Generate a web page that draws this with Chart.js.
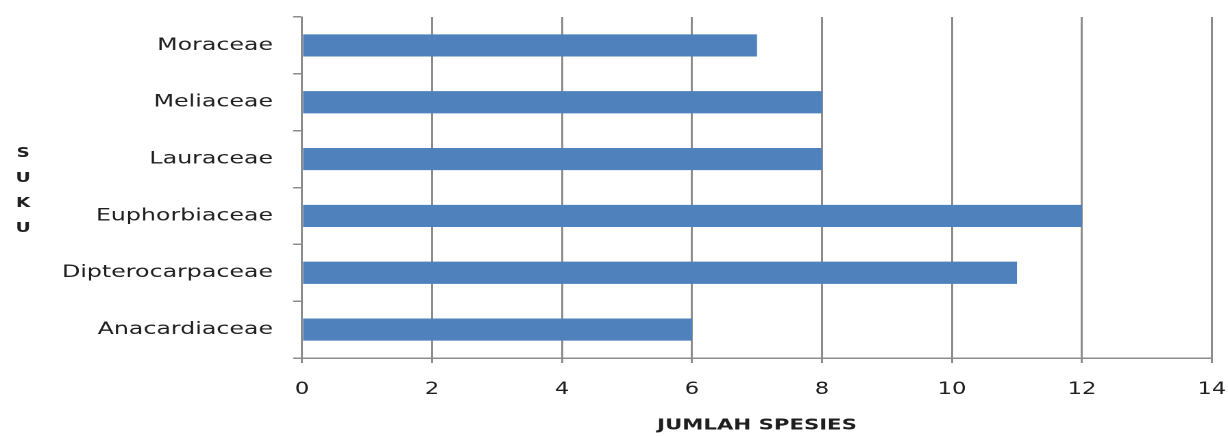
<!DOCTYPE html>
<html>
<head>
<meta charset="utf-8">
<script src="https://cdn.jsdelivr.net/npm/chart.js@4"></script>
<style>
  html, body { margin: 0; background: #fff; overflow: hidden; }
  /* the original picture is stretched sideways, so draw narrower and stretch the box */
  #wrap { position: relative; width: 896px; height: 436px; transform: scaleX(1.3705); transform-origin: 0 0; }
</style>
</head>
<body>
<div id="wrap"><canvas id="suku"></canvas></div>
<script>
/* Data */
const families = ['Moraceae', 'Meliaceae', 'Lauraceae', 'Euphorbiaceae', 'Dipterocarpaceae', 'Anacardiaceae'];
const speciesCount = [7, 8, 8, 12, 11, 6];
const xTicks = [0, 2, 4, 6, 8, 10, 12, 14];
const yTitleLetters = ['S', 'U', 'K', 'U'];
const xTitle = 'JUMLAH SPESIES';

const fontFamily = '"DejaVu Sans", Verdana, sans-serif';
const textColor = '#1f1f1f';
const lineColor = '#8c8c8c';

/* vertical "S U K U" title, one letter per line */
const stackedTitle = {
  id: 'stackedTitle',
  afterDraw(chart) {
    const { ctx, chartArea } = chart;
    const mid = (chartArea.top + chartArea.bottom) / 2 + 3.5;
    const step = 25;
    ctx.save();
    ctx.font = 'bold 13.5px ' + fontFamily;
    ctx.fillStyle = textColor;
    ctx.textAlign = 'center';
    ctx.textBaseline = 'middle';
    yTitleLetters.forEach((ch, i) => {
      ctx.fillText(ch, 16.8, mid + (i - (yTitleLetters.length - 1) / 2) * step);
    });
    ctx.restore();
  }
};

new Chart(document.getElementById('suku'), {
  type: 'bar',
  data: {
    labels: families,
    datasets: [{
      label: xTitle,
      data: speciesCount,
      backgroundColor: '#4f81bd',
      barPercentage: 0.39,
      categoryPercentage: 1
    }]
  },
  options: {
    indexAxis: 'y',
    responsive: true,
    maintainAspectRatio: false,
    animation: false,
    devicePixelRatio: 2,
    layout: { padding: { top: 17, right: 11.7, left: 0, bottom: 0 } },
    plugins: { legend: { display: false }, tooltip: { enabled: false } },
    scales: {
      x: {
        min: xTicks[0],
        max: xTicks[xTicks.length - 1],
        afterBuildTicks(scale) { scale.ticks = xTicks.map((v) => ({ value: v })); },
        ticks: { color: textColor, font: { family: fontFamily, size: 16.5 }, padding: 17 },
        grid: { color: lineColor, lineWidth: 1.5, tickLength: 5 },
        border: { color: lineColor, width: 1.5 },
        title: {
          display: true,
          text: xTitle,
          color: textColor,
          font: { family: fontFamily, size: 15.5, weight: 'bold' },
          padding: { top: 0, bottom: 1 }
        },
        afterFit(scale) {
          scale.height = 78;
          scale.paddingLeft = 0;
          scale.paddingRight = 0;
        }
      },
      y: {
        ticks: { color: textColor, font: { family: fontFamily, size: 17.3 }, padding: 14.6 },
        grid: { drawOnChartArea: false, color: lineColor, lineWidth: 1.5, tickLength: 6.6 },
        border: { color: lineColor, width: 1.5 },
        afterFit(scale) {
          scale.width = 220.4;
          scale.paddingTop = 0;
          scale.paddingBottom = 0;
        }
      }
    }
  },
  plugins: [stackedTitle]
});
</script>
</body>
</html>
